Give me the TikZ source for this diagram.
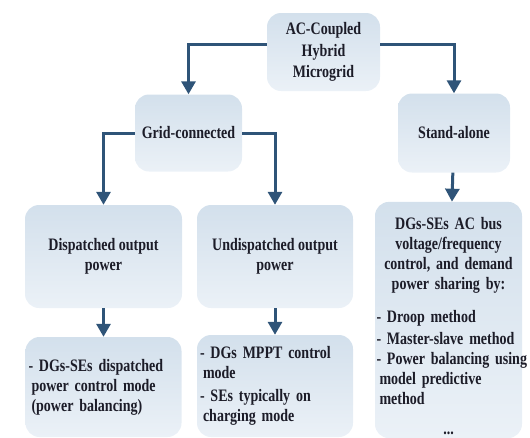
\documentclass[tikz,border=0pt]{standalone}
\usepackage{fontspec}
\setmainfont{Liberation Serif}[FakeStretch=0.8]
\usetikzlibrary{arrows.meta}
\definecolor{boxtop}{HTML}{D3E0EC}
\definecolor{boxbot}{HTML}{EBF1F7}
\definecolor{arrowblue}{HTML}{2F5478}
\definecolor{txtdark}{HTML}{1C1C28}
\newcommand{\ind}{\hspace*{3pt}}
\hyphenpenalty=10000

\begin{document}
\begin{tikzpicture}[x=1pt,y=-1pt,
	box/.style={rounded corners=14pt, top color=boxtop, bottom color=boxbot, draw=none,
		font=\fontsize{17.5}{20}\selectfont\bfseries, text=txtdark, align=center, inner sep=3pt},
	listbox/.style={box, align=left},
	conn/.style={line width=3pt, draw=arrowblue, -{Triangle[width=14pt,length=13pt]}}]
			%%%%% START %%%%%
			\def\rowone{133}
			\def\rowtwo{256.5}
			\def\wsmall{157}
			\def\hsmall{103}
			
			\useasboundingbox (0,0) rectangle (530,437);
			
			\node[box, minimum width=113, minimum height=78, font=\fontsize{17.5}{21.5}\selectfont\bfseries] (root) at (323.5,52) {AC-Coupled\\Hybrid\\Microgrid};
			\node[box, minimum width=107, minimum height=77] (grid) at (188.5,\rowone) {Grid-connected};
			\node[box, minimum width=112, minimum height=79] (stand) at (454,\rowone) {Stand-alone};
			
			\node[box, minimum width=\wsmall, minimum height=\hsmall] (disp) at (103.5,\rowtwo) {Dispatched output\\power};
			\node[box, minimum width=156, minimum height=\hsmall] (undisp) at (275,\rowtwo) {Undispatched output\\power};
			
			\node[listbox, text width=150pt, minimum height=100] (dispmode) at (103.5,387)
				{- DGs-SEs dispatched\\\ind power control mode\\\ind (power balancing)};
			\node[listbox, text width=150pt, minimum height=102] (undispmode) at (275,386)
				{- DGs MPPT control\\\ind mode\\[3pt]- SEs typically on\\\ind charging mode};
			
			\node[listbox, text width=144pt, inner xsep=1.5pt, minimum height=230] (standctrl) at (448.5,320)
				{{\centering \rule{0pt}{25pt}DGs-SEs AC bus\\voltage/frequency\\control, and demand\\power sharing by:\par}
				\vspace{13pt}- Droop method\par
				\vspace{2pt}- Master-slave method\par
				\mbox{- Power balancing using}\\\ind model predictive\\\ind method\par
				\vspace{10pt}{\centering ...\par}};
			
			\draw[conn] ([yshift=8pt]root.west) -| (grid.north);
			\draw[conn] ([yshift=8pt]root.east) -| (stand.north);
			\draw[conn] (grid.west) -| (disp.north);
			\draw[conn] (grid.east) -| (undisp.north);
			\draw[conn] (stand) -- (standctrl);
			\draw[conn] (disp) -- (dispmode);
			\draw[conn] (undisp) -- (undispmode);
			%%%%% END %%%%%
\end{tikzpicture}
\end{document}
